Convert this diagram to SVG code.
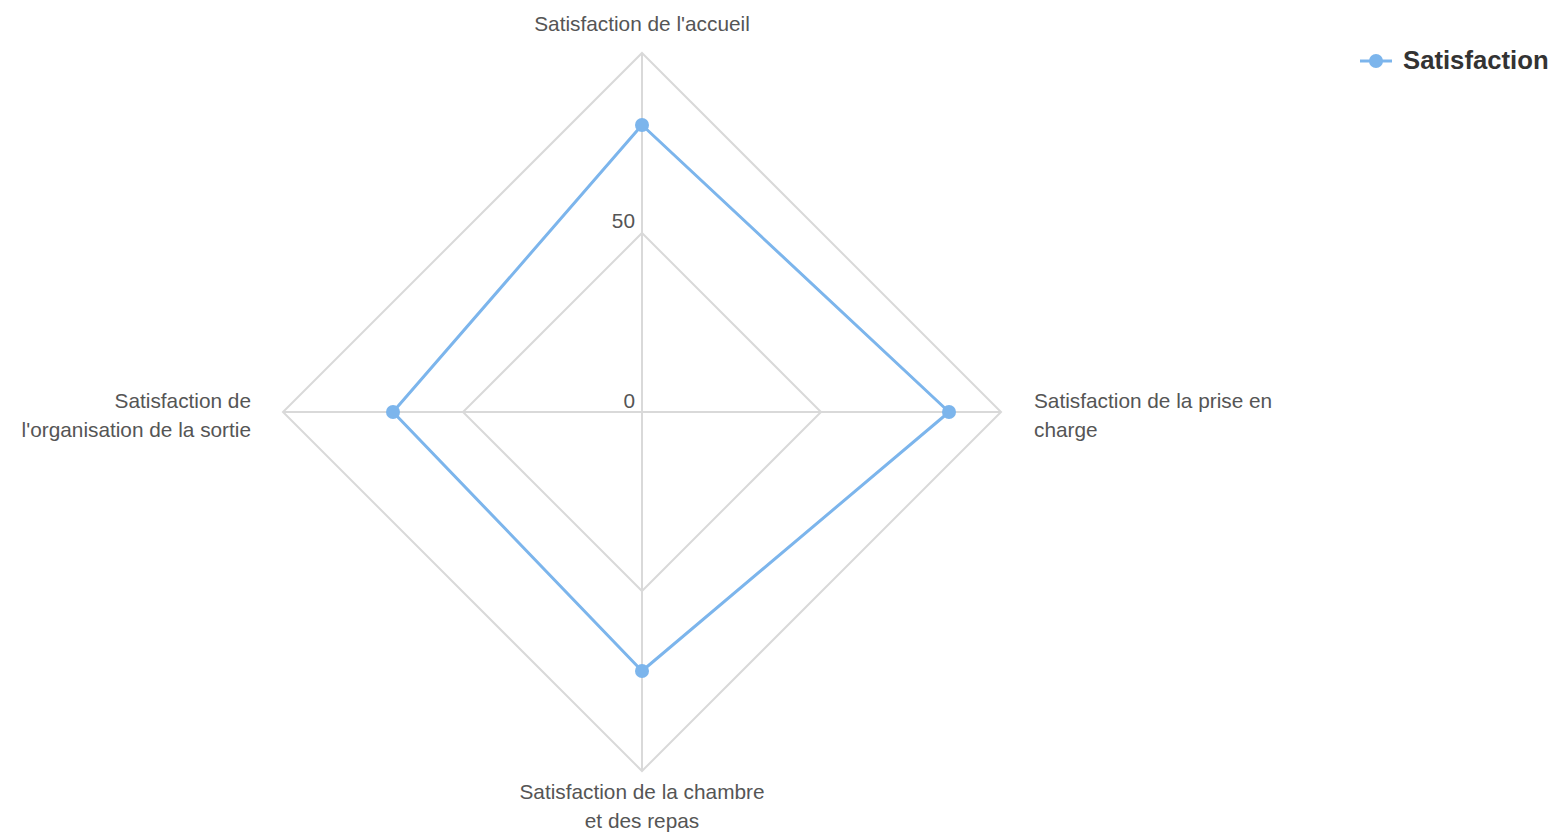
<svg xmlns="http://www.w3.org/2000/svg" width="1556" height="835" viewBox="0 0 1556 835">
<style>
.grid{fill:none;stroke:#d9d9d9;stroke-width:2}
.lbl{font-family:"Liberation Sans",Arial,sans-serif;font-size:20.8px;fill:#555}
.series{fill:none;stroke:#7cb5ec;stroke-width:3;stroke-linejoin:round}
.pt{fill:#7cb5ec}
</style>
<rect width="1556" height="835" fill="#fff"/>
<g id="grid">
<polygon class="grid" points="642,53 1001,412 642,771 283,412"/>
<polygon class="grid" points="642,233 821,412 642,591 463,412"/>
<line class="grid" x1="642" y1="53" x2="642" y2="771"/>
<line class="grid" x1="283" y1="412" x2="1001" y2="412"/>
</g>
<g id="axis-labels">
<text class="lbl" x="635" y="228" text-anchor="end">50</text>
<text class="lbl" x="635" y="408" text-anchor="end">0</text>
</g>
<g id="connectors">
<polygon class="series" points="642,125 949,412 642,671 393,412"/>
</g>
<g id="node-accueil"><circle class="pt" cx="642" cy="125" r="7"/><text class="lbl" x="642" y="31" text-anchor="middle">Satisfaction de l'accueil</text></g>
<g id="node-prise"><circle class="pt" cx="949" cy="412" r="7"/><text class="lbl" x="1034" y="408">Satisfaction de la prise en</text><text class="lbl" x="1034" y="437">charge</text></g>
<g id="node-chambre"><circle class="pt" cx="642" cy="671" r="7"/><text class="lbl" x="642" y="799" text-anchor="middle">Satisfaction de la chambre</text><text class="lbl" x="642" y="828" text-anchor="middle">et des repas</text></g>
<g id="node-sortie"><circle class="pt" cx="393" cy="412" r="7"/><text class="lbl" x="251" y="408" text-anchor="end">Satisfaction de</text><text class="lbl" x="251" y="437" text-anchor="end">l'organisation de la sortie</text></g>
<g id="legend">
<line x1="1360" y1="61" x2="1392" y2="61" stroke="#7cb5ec" stroke-width="3"/>
<circle class="pt" cx="1376" cy="61" r="7"/>
<text x="1403" y="69" font-family="'Liberation Sans',Arial,sans-serif" font-size="25.7" font-weight="bold" fill="#333">Satisfaction</text>
</g>
</svg>
